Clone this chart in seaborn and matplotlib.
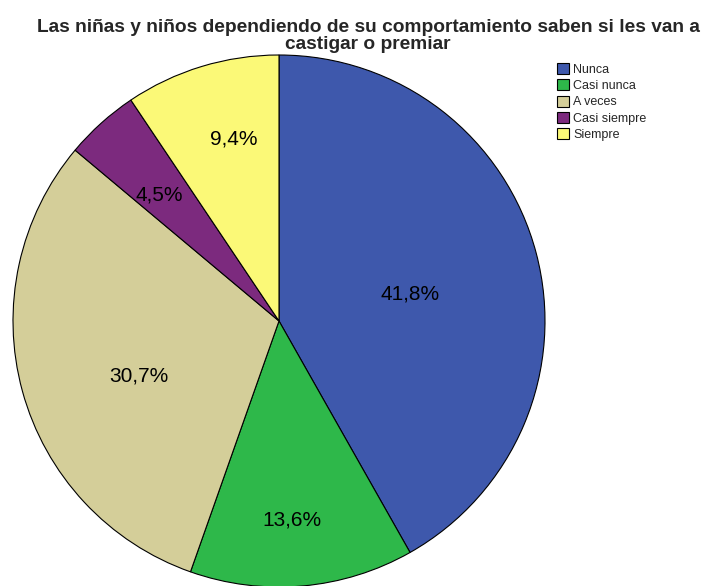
import numpy as np
import matplotlib
matplotlib.use("Agg")
import matplotlib.pyplot as plt
import seaborn as sns
from matplotlib.patches import Patch

sns.set_theme(style="white")
plt.rcParams['font.family'] = ['Liberation Sans', 'DejaVu Sans']

categories = ["Nunca", "Casi nunca", "A veces", "Casi siempre", "Siempre"]
values = [41.8, 13.6, 30.7, 4.5, 9.4]
colors = ["#3E58AC", "#2EB84A", "#D4CE99", "#7C2A7E", "#FBF977"]
# label placement: radial fraction and angular shift (degrees) from wedge middle
label_dist = [0.503, 0.75, 0.565, 0.654, 0.705]
label_shift = [-3.2, -1.4, 6.1, 1.6, -3.1]
title = "Las niñas y niños dependiendo de su comportamiento saben si les van a\ncastigar o premiar"

fig = plt.figure(figsize=(7.03, 5.86), dpi=100)
W, H = 703, 586
cx, cy, r = 279, 586 - 321, 266
ax = fig.add_axes([(cx - r) / W, (cy - r) / H, 2 * r / W, 2 * r / H])
wedges, _ = ax.pie(values, colors=colors, startangle=90, counterclock=False,
                   wedgeprops=dict(edgecolor="black", linewidth=0.8))
ax.set_xlim(-1, 1)
ax.set_ylim(-1, 1)
ax.axis("off")
for w, v, d, s in zip(wedges, values, label_dist, label_shift):
    ang = np.deg2rad((w.theta1 + w.theta2) / 2 + s)
    ax.text(d * np.cos(ang), d * np.sin(ang), f"{v:.1f}%".replace(".", ","),
            ha="center", va="center", fontsize=15, color="black")

fig.text(368 / W, 1 - 36 / H, title, ha="center", va="center",
         fontsize=13.8, fontweight="bold", linespacing=1.0)

handles = [Patch(facecolor=c, edgecolor="black", linewidth=0.8) for c in colors]
fig.legend(handles, categories, loc="upper left", bbox_to_anchor=(548 / W, 1 - 54 / H),
           frameon=False, fontsize=9, handlelength=1.0, handleheight=1.0,
           handletextpad=0.3, labelspacing=0.28, borderpad=0.2)

fig.savefig("out.png", dpi=100)
